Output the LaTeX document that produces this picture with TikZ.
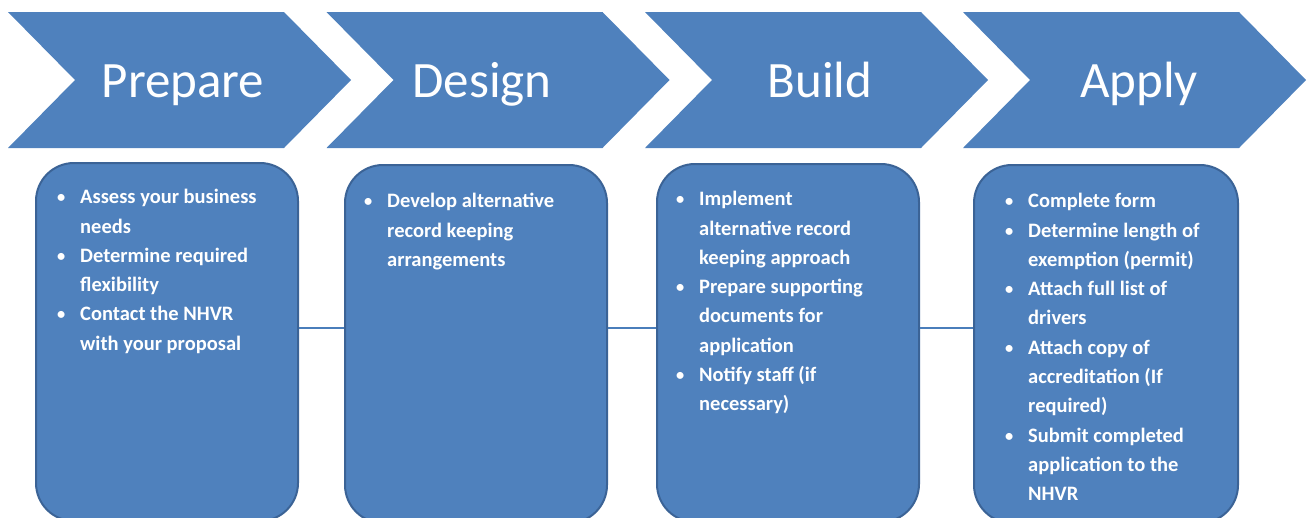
\documentclass[tikz,border=0pt]{standalone}
\usepackage{fontspec}
\setmainfont{Carlito}
\definecolor{fillblue}{HTML}{4F81BD}
\definecolor{edgeblue}{HTML}{3B6396}
\definecolor{lineblue}{HTML}{4A7EBB}
\newcommand\bl{\strut\makebox[23pt][l]{\raisebox{1pt}{\scalebox{0.8}{•}}}}
\newcommand\ind{\strut\hspace*{23pt}}
\begin{document}
\begin{tikzpicture}[x=1pt,y=-1pt,
  chev/.style={fill=fillblue, draw=none},
  head/.style={text=white, font=\fontsize{51}{60}\selectfont, anchor=base, inner sep=0},
  stepbox/.style={fill=fillblue, draw=edgeblue, line width=2pt, rounded corners=38pt,
     minimum width=262pt, minimum height=358pt, anchor=north west, inner sep=0},
  itemtext/.style={text=white, font=\fontsize{20.5}{29.3}\selectfont\bfseries, align=left,
     anchor=north west, inner sep=0},
  conn/.style={draw=lineblue, line width=1.5pt}]
\useasboundingbox (0,0) rectangle (1309,517);
\clip (0,0) rectangle (1309,517);
% chevrons
\foreach \x in {8,326.5,645,963}{
  \path[chev] (\x,12) -- ++(276,0) -- ++(67,68) -- ++(-67,68) -- ++(-276,0) -- ++(67,-68) -- cycle;
}
\node[head] (h1) at (183,97) {Prepare};
\node[head] (h2) at (482,97) {Design};
\node[head] (h3) at (820,97) {Build};
\node[head] (h4) at (1139,97) {Apply};
% boxes
\node[stepbox] (b1) at (35,162) {};
\node[stepbox] (b2) at (344,164) {};
\node[stepbox] (b3) at (656,163) {};
\node[stepbox, minimum width=264pt] (b4) at (973,164) {};
% connectors
\coordinate (ly) at (0,328);
\draw[conn] (b1.east |- ly) -- (b2.west |- ly);
\draw[conn] (b2.east |- ly) -- (b3.west |- ly);
\draw[conn] (b3.east |- ly) -- (b4.west |- ly);
% texts
\node[itemtext] (t1) at (57,183) {\bl Assess your business\\ \ind needs\\ \bl Determine required\\ \ind flexibility\\ \bl Contact the NHVR\\ \ind with your proposal};
\node[itemtext] (t2) at (364,187) {\bl Develop alternative\\ \ind record keeping\\ \ind arrangements};
\node[itemtext] (t3) at (676,185) {\bl Implement\\ \ind alternative record\\ \ind keeping approach\\ \bl Prepare supporting\\ \ind documents for\\ \ind application\\ \bl Notify staff (if\\ \ind necessary)};
\node[itemtext] (t4) at (1005,187) {\bl Complete form\\ \bl Determine length of\\ \ind exemption (permit)\\ \bl Attach full list of\\ \ind drivers\\ \bl Attach copy of\\ \ind accreditation (If\\ \ind required)\\ \bl Submit completed\\ \ind application to the\\ \ind NHVR};
\end{tikzpicture}
\end{document}
